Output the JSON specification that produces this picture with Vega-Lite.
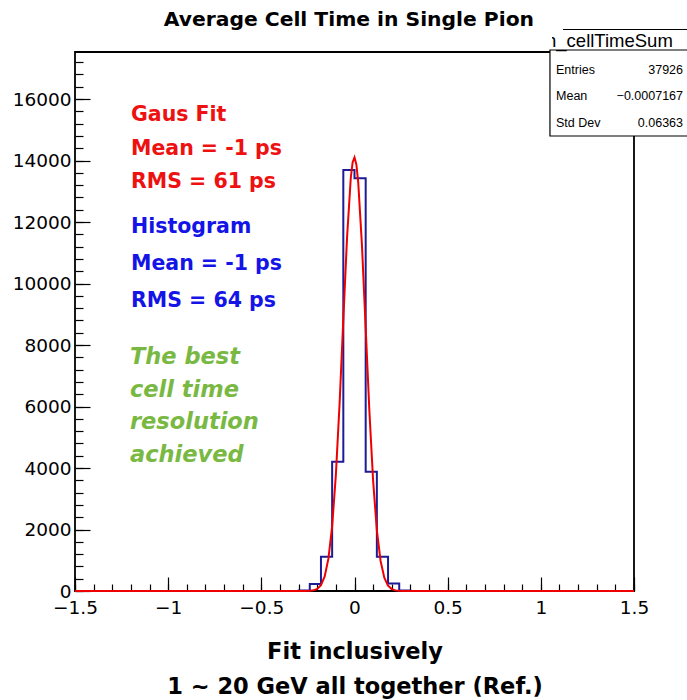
{
  "$schema": "https://vega.github.io/schema/vega-lite/v6.json",
  "width": 559,
  "height": 539,
  "autosize": {"type": "none"},
  "padding": {"left": 75, "top": 52, "right": 53, "bottom": 109},
  "background": "white",
  "config": {
    "view": {"stroke": "#000", "strokeWidth": 1.8},
    "axis": {"grid": false, "domain": false, "tickColor": "#000", "tickWidth": 1.2}
  },
  "datasets": {
    "hist": [
      {"x": -1.5, "n": 0}, {"x": -1.44, "n": 0}, {"x": -1.38, "n": 0}, {"x": -1.32, "n": 0}, {"x": -1.26, "n": 0},
      {"x": -1.2, "n": 0}, {"x": -1.14, "n": 0}, {"x": -1.08, "n": 0}, {"x": -1.02, "n": 0}, {"x": -0.96, "n": 0},
      {"x": -0.9, "n": 0}, {"x": -0.84, "n": 0}, {"x": -0.78, "n": 0}, {"x": -0.72, "n": 0}, {"x": -0.66, "n": 0},
      {"x": -0.6, "n": 0}, {"x": -0.54, "n": 0}, {"x": -0.48, "n": 0}, {"x": -0.42, "n": 0}, {"x": -0.36, "n": 0},
      {"x": -0.3, "n": 15}, {"x": -0.24, "n": 225}, {"x": -0.18, "n": 1115}, {"x": -0.12, "n": 4205}, {"x": -0.06, "n": 13690},
      {"x": 0, "n": 13420}, {"x": 0.06, "n": 3880}, {"x": 0.12, "n": 1115}, {"x": 0.18, "n": 245}, {"x": 0.24, "n": 16},
      {"x": 0.3, "n": 0}, {"x": 0.36, "n": 0}, {"x": 0.42, "n": 0}, {"x": 0.48, "n": 0}, {"x": 0.54, "n": 0},
      {"x": 0.6, "n": 0}, {"x": 0.66, "n": 0}, {"x": 0.72, "n": 0}, {"x": 0.78, "n": 0}, {"x": 0.84, "n": 0},
      {"x": 0.9, "n": 0}, {"x": 0.96, "n": 0}, {"x": 1.02, "n": 0}, {"x": 1.08, "n": 0}, {"x": 1.14, "n": 0},
      {"x": 1.2, "n": 0}, {"x": 1.26, "n": 0}, {"x": 1.32, "n": 0}, {"x": 1.38, "n": 0}, {"x": 1.44, "n": 0},
      {"x": 1.5, "n": 0}
    ],
    "fit": [
      {"x": -1.5, "f": 0}, {"x": -0.26, "f": 1.7}, {"x": -0.24, "f": 6.5}, {"x": -0.22, "f": 22}, {"x": -0.2, "f": 69},
      {"x": -0.18, "f": 190}, {"x": -0.16, "f": 472}, {"x": -0.14, "f": 1052}, {"x": -0.12, "f": 2102}, {"x": -0.1, "f": 3779},
      {"x": -0.08, "f": 6097}, {"x": -0.06, "f": 8834}, {"x": -0.04, "f": 11494}, {"x": -0.02, "f": 13433}, {"x": -0.01, "f": 13947},
      {"x": 0, "f": 14098}, {"x": 0.01, "f": 13873}, {"x": 0.02, "f": 13289}, {"x": 0.04, "f": 11249}, {"x": 0.06, "f": 8552},
      {"x": 0.08, "f": 5839}, {"x": 0.1, "f": 3580}, {"x": 0.12, "f": 1970}, {"x": 0.14, "f": 976}, {"x": 0.16, "f": 433},
      {"x": 0.18, "f": 173}, {"x": 0.2, "f": 62}, {"x": 0.22, "f": 20}, {"x": 0.24, "f": 6}, {"x": 0.26, "f": 1.5},
      {"x": 1.5, "f": 0}
    ]
  },
  "resolve": {"axis": {"x": "independent", "y": "independent"}},
  "layer": [
    {
      "data": {"name": "hist"},
      "mark": {"type": "line", "interpolate": "step-after", "color": "#1c1c96", "strokeWidth": 2},
      "encoding": {
        "x": {
          "field": "x", "type": "quantitative",
          "scale": {"domain": [-1.5, 1.5], "nice": false, "zero": false},
          "axis": {
            "orient": "bottom", "values": [-1.5, -1, -0.5, 0, 0.5, 1, 1.5], "format": "~g",
            "tickSize": -14, "labelPadding": 21, "labelFont": "DejaVu Sans", "labelFontSize": 18.5,
            "labelColor": "#000", "labelFlush": false, "labelOverlap": false,
            "title": ["Fit inclusively", "1 ~ 20 GeV all together (Ref.)"],
            "titleFont": "DejaVu Sans", "titleFontSize": 22.5, "titleFontWeight": "bold",
            "titleColor": "#000", "titleLineHeight": 35, "titlePadding": 24
          }
        },
        "y": {
          "field": "n", "type": "quantitative",
          "scale": {"domain": [0, 17530], "nice": false},
          "axis": {
            "orient": "left", "values": [0, 2000, 4000, 6000, 8000, 10000, 12000, 14000, 16000], "format": "d",
            "tickSize": -15, "labelPadding": 19, "labelFont": "DejaVu Sans", "labelFontSize": 18.5,
            "labelColor": "#000", "labelFlush": false, "labelOverlap": false, "title": null
          }
        }
      }
    },
    {
      "data": {"name": "fit"},
      "mark": {"type": "line", "color": "#ee0000", "strokeWidth": 2},
      "encoding": {
        "x": {
          "field": "x", "type": "quantitative",
          "axis": {
            "orient": "bottom", "labels": false, "tickSize": -7, "title": null,
            "values": [-1.5, -1.4, -1.3, -1.2, -1.1, -1, -0.9, -0.8, -0.7, -0.6, -0.5, -0.4, -0.3, -0.2, -0.1, 0, 0.1, 0.2, 0.3, 0.4, 0.5, 0.6, 0.7, 0.8, 0.9, 1, 1.1, 1.2, 1.3, 1.4, 1.5]
          }
        },
        "y": {
          "field": "f", "type": "quantitative",
          "axis": {
            "orient": "left", "labels": false, "tickSize": -8, "title": null,
            "values": [0, 400, 800, 1200, 1600, 2000, 2400, 2800, 3200, 3600, 4000, 4400, 4800, 5200, 5600, 6000, 6400, 6800, 7200, 7600, 8000, 8400, 8800, 9200, 9600, 10000, 10400, 10800, 11200, 11600, 12000, 12400, 12800, 13200, 13600, 14000, 14400, 14800, 15200, 15600, 16000, 16400, 16800, 17200]
          }
        }
      }
    },
    {
      "data": {"values": [{}]},
      "mark": {"type": "text", "text": ["Gaus Fit", "Mean = -1 ps", "RMS = 61 ps"], "align": "left", "baseline": "middle", "font": "DejaVu Sans", "fontWeight": "bold", "fontSize": 20.5, "lineHeight": 33.5, "color": "#ee1111"},
      "encoding": {
        "x": {"datum": -1.1995, "type": "quantitative", "axis": null},
        "y": {"datum": 15481, "type": "quantitative", "axis": null}
      }
    },
    {
      "data": {"values": [{}]},
      "mark": {"type": "text", "text": ["Histogram", "Mean = -1 ps", "RMS = 64 ps"], "align": "left", "baseline": "middle", "font": "DejaVu Sans", "fontWeight": "bold", "fontSize": 20.5, "lineHeight": 37, "color": "#1414e6"},
      "encoding": {
        "x": {"datum": -1.1995, "type": "quantitative", "axis": null},
        "y": {"datum": 11848, "type": "quantitative", "axis": null}
      }
    },
    {
      "data": {"values": [{}]},
      "mark": {"type": "text", "text": ["The best", "cell time", "resolution", "achieved"], "align": "left", "baseline": "middle", "font": "DejaVu Sans", "fontWeight": "bold", "fontStyle": "italic", "fontSize": 22.5, "lineHeight": 32.5, "color": "#79b943"},
      "encoding": {
        "x": {"datum": -1.205, "type": "quantitative", "axis": null},
        "y": {"datum": 7601, "type": "quantitative", "axis": null}
      }
    },
    {
      "data": {"values": [{}]},
      "mark": {"type": "text", "text": "Average Cell Time in Single Pion", "align": "center", "baseline": "alphabetic", "font": "DejaVu Sans", "fontWeight": "bold", "fontSize": 20.3, "color": "#000"},
      "encoding": {
        "x": {"datum": -0.03, "type": "quantitative", "axis": null},
        "y": {"datum": 18376, "type": "quantitative", "axis": null}
      }
    },
    {
      "data": {"values": [{}]},
      "mark": {"type": "rect", "fill": "white", "stroke": "#000", "strokeWidth": 1.2},
      "encoding": {
        "x": {"datum": 1.049, "type": "quantitative", "axis": null},
        "x2": {"datum": 1.81},
        "y": {"datum": 17595, "type": "quantitative", "axis": null},
        "y2": {"datum": 14798}
      }
    },
    {
      "data": {"values": [{}]},
      "mark": {"type": "rule", "color": "#000", "strokeWidth": 1.2},
      "encoding": {
        "x": {"datum": 1.119, "type": "quantitative", "axis": null},
        "x2": {"datum": 1.81},
        "y": {"datum": 18262, "type": "quantitative", "axis": null}
      }
    },
    {
      "data": {"values": [{}]},
      "mark": {"type": "text", "text": "h_cellTimeSum", "align": "left", "baseline": "alphabetic", "font": "Liberation Sans", "fontSize": 18.5, "color": "#000"},
      "encoding": {
        "x": {"datum": 1.0278, "type": "quantitative", "axis": null},
        "y": {"datum": 17693, "type": "quantitative", "axis": null}
      }
    },
    {
      "data": {"values": [{}]},
      "mark": {"type": "rect", "fill": "white", "strokeWidth": 0},
      "encoding": {
        "x": {"datum": 0.9956, "type": "quantitative", "axis": null},
        "x2": {"datum": 1.06},
        "y": {"datum": 18408, "type": "quantitative", "axis": null},
        "y2": {"datum": 17644}
      }
    },
    {
      "data": {"values": [{}]},
      "mark": {"type": "text", "text": ["Entries", "Mean", "Std Dev"], "align": "left", "baseline": "middle", "font": "Liberation Sans", "fontSize": 12.5, "lineHeight": 26.5, "color": "#000"},
      "encoding": {
        "x": {"datum": 1.0815, "type": "quantitative", "axis": null},
        "y": {"datum": 16945, "type": "quantitative", "axis": null}
      }
    },
    {
      "data": {"values": [{}]},
      "mark": {"type": "text", "text": ["37926", "−0.0007167", "0.06363"], "align": "right", "baseline": "middle", "font": "Liberation Sans", "fontSize": 12.5, "lineHeight": 26.5, "color": "#000"},
      "encoding": {
        "x": {"datum": 1.763, "type": "quantitative", "axis": null},
        "y": {"datum": 16945, "type": "quantitative", "axis": null}
      }
    }
  ]
}
